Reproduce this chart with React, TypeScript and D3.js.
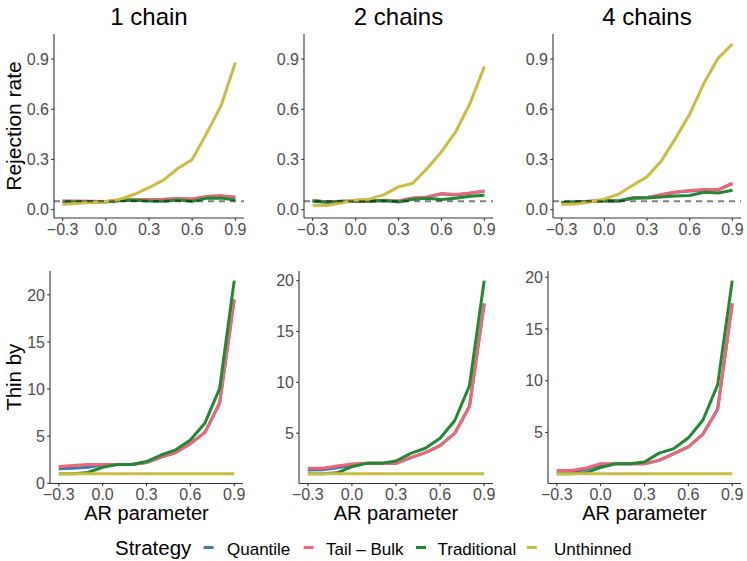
import React from 'react';
import * as d3 from 'd3';

// AR parameter values on the x axis
const arParam = [-0.3, -0.2, -0.1, 0.0, 0.1, 0.2, 0.3, 0.4, 0.5, 0.6, 0.7, 0.8, 0.9];
const xTicks = [-0.3, 0.0, 0.3, 0.6, 0.9];
const rejTicks = [0, 0.3, 0.6, 0.9];
const thinTicks = [0, 5, 10, 15, 20];
const nominalRate = 0.05;

const strategies = ['Quantile', 'Tail \u2013 Bulk', 'Traditional', 'Unthinned'];
const strategyColors = ['#4477AA', '#EE6677', '#228833', '#CCBB44'];
const chainTitles = ['1 chain', '2 chains', '4 chains'];

// rejection rate, one row per strategy (Quantile, Tail-Bulk, Traditional, Unthinned)
const rejection1 = [
  [0.05, 0.05, 0.049, 0.048, 0.055, 0.06, 0.06, 0.06, 0.065, 0.062, 0.075, 0.08, 0.075],
  [0.052, 0.05, 0.05, 0.048, 0.055, 0.06, 0.06, 0.062, 0.066, 0.064, 0.078, 0.085, 0.07],
  [0.045, 0.046, 0.047, 0.046, 0.055, 0.056, 0.052, 0.05, 0.058, 0.05, 0.068, 0.07, 0.058],
  [0.03, 0.038, 0.042, 0.048, 0.062, 0.092, 0.132, 0.176, 0.246, 0.3, 0.456, 0.62, 0.88],
];
const rejection2 = [
  [0.054, 0.046, 0.05, 0.05, 0.05, 0.055, 0.05, 0.068, 0.074, 0.094, 0.088, 0.098, 0.11],
  [0.056, 0.046, 0.05, 0.05, 0.052, 0.056, 0.052, 0.07, 0.076, 0.096, 0.09, 0.1, 0.112],
  [0.05, 0.044, 0.048, 0.05, 0.052, 0.054, 0.046, 0.062, 0.068, 0.06, 0.068, 0.08, 0.086],
  [0.026, 0.024, 0.04, 0.058, 0.064, 0.09, 0.136, 0.158, 0.246, 0.346, 0.466, 0.636, 0.856],
];
const rejection4 = [
  [0.042, 0.046, 0.05, 0.052, 0.052, 0.07, 0.072, 0.088, 0.104, 0.112, 0.118, 0.118, 0.155],
  [0.042, 0.046, 0.05, 0.052, 0.052, 0.07, 0.072, 0.09, 0.106, 0.114, 0.12, 0.12, 0.158],
  [0.042, 0.046, 0.048, 0.054, 0.052, 0.07, 0.07, 0.076, 0.082, 0.084, 0.104, 0.1, 0.116],
  [0.03, 0.034, 0.046, 0.064, 0.092, 0.146, 0.196, 0.29, 0.426, 0.572, 0.756, 0.906, 0.99],
];

// thinning interval, same strategy order
const thin1 = [
  [1.53, 1.6, 1.7, 1.95, 2.0, 2.0, 2.2, 2.77, 3.27, 4.2, 5.4, 8.5, 19.5],
  [1.78, 1.88, 2.0, 2.0, 2.0, 2.0, 2.2, 2.77, 3.27, 4.2, 5.4, 8.5, 19.5],
  [1.0, 1.0, 1.15, 1.7, 2.0, 2.0, 2.3, 3.0, 3.55, 4.6, 6.4, 10.05, 21.5],
  [1, 1, 1, 1, 1, 1, 1, 1, 1, 1, 1, 1, 1],
];
const thin2 = [
  [1.38, 1.4, 1.6, 1.87, 2.03, 2.03, 2.03, 2.6, 3.09, 3.78, 5.0, 7.64, 17.76],
  [1.54, 1.54, 1.77, 1.97, 2.03, 2.03, 2.03, 2.6, 3.09, 3.78, 5.0, 7.64, 17.76],
  [1.0, 1.0, 1.1, 1.7, 2.03, 2.03, 2.26, 3.02, 3.52, 4.5, 6.25, 9.68, 20.0],
  [1, 1, 1, 1, 1, 1, 1, 1, 1, 1, 1, 1, 1],
];
const thin4 = [
  [1.23, 1.23, 1.43, 1.82, 1.98, 1.98, 1.98, 2.3, 2.95, 3.6, 4.84, 7.24, 17.47],
  [1.33, 1.33, 1.56, 1.98, 1.98, 1.98, 1.98, 2.3, 2.95, 3.6, 4.84, 7.24, 17.47],
  [1.0, 1.0, 1.1, 1.62, 1.98, 1.98, 2.14, 3.0, 3.44, 4.48, 6.2, 9.6, 19.67],
  [1, 1, 1, 1, 1, 1, 1, 1, 1, 1, 1, 1, 1],
];

const rejectionData = [rejection1, rejection2, rejection4];
const thinData = [thin1, thin2, thin4];

const FONT = '"Liberation Sans", Arial, Helvetica, sans-serif';
const AXIS_COL = '#333333';
const TICK_COL = '#4D4D4D';

const topCols = [[54, 244], [304, 493], [553, 741]];
const bottomCols = [[50, 243], [299, 493], [548, 741]];

const expand = (vals: number[]) => {
  const [lo, hi] = d3.extent(vals) as [number, number];
  const pad = (hi - lo) * 0.05;
  return [lo - pad, hi + pad];
};

const Panel = ({ x0, x1, yB, yT, series, yDomain, yTicks, yFmt, hline }: any) => {
  const x = d3.scaleLinear().domain([-0.36, 0.96]).range([x0, x1]);
  const y = d3.scaleLinear().domain(yDomain).range([yB, yT]);
  const line = d3.line<number>().x((_, i) => x(arParam[i])).y(d => y(d));
  const ticks = yTicks.filter((t: number) => t >= yDomain[0] && t <= yDomain[1]);
  return (
    <g>
      {series.map((s: number[], i: number) => (
        <path key={i} d={line(s) || ''} fill="none" stroke={strategyColors[i]}
          strokeWidth={3} strokeLinejoin="round" />
      ))}
      {hline != null && (
        <line x1={x0} x2={x1} y1={y(hline)} y2={y(hline)} stroke="#000" strokeOpacity={0.5}
          strokeWidth={2} strokeDasharray="6,5" />
      )}
      <line x1={x0} x2={x0} y1={yT} y2={yB} stroke={AXIS_COL} strokeWidth={1.1} />
      <line x1={x0} x2={x1} y1={yB} y2={yB} stroke={AXIS_COL} strokeWidth={1.1} />
      {ticks.map((t: number) => (
        <g key={'y' + t}>
          <line x1={x0 - 2.75} x2={x0} y1={y(t)} y2={y(t)} stroke={AXIS_COL} strokeWidth={1.1} />
          <text x={x0 - 5} y={y(t)} dy="0.36em" textAnchor="end" fontSize={16} fill={TICK_COL}>
            {yFmt(t)}
          </text>
        </g>
      ))}
      {xTicks.map(t => (
        <g key={'x' + t}>
          <line x1={x(t)} x2={x(t)} y1={yB} y2={yB + 2.75} stroke={AXIS_COL} strokeWidth={1.1} />
          <text x={x(t)} y={yB + 16.5} textAnchor="middle" fontSize={16} fill={TICK_COL}>
            {d3.format('.1f')(t)}
          </text>
        </g>
      ))}
    </g>
  );
};

const legendKeys = [203.6, 303.6, 416, 526.8];
const legendTextX = [227, 326, 437.5, 554];

export default function App() {
  const topY: [number, number] = [218, 34];
  const botY: [number, number] = [483.5, 271];
  return (
    <svg width={747} height={561} style={{ position: 'absolute', left: 0, top: 0 }} fontFamily={FONT}>
      <rect width={747} height={561} fill="#fff" />
      {chainTitles.map((title, c) => {
        const [tx0, tx1] = topCols[c];
        const [bx0, bx1] = bottomCols[c];
        const rej = rejectionData[c];
        const thin = thinData[c];
        return (
          <g key={title}>
            <text x={(tx0 + tx1) / 2} y={25} textAnchor="middle" fontSize={24} fill="#000">{title}</text>
            <Panel x0={tx0} x1={tx1} yB={topY[0]} yT={topY[1]} series={rej}
              yDomain={[-0.05, 1.05]} yTicks={rejTicks} yFmt={d3.format('.1f')} hline={nominalRate} />
            <Panel x0={bx0} x1={bx1} yB={botY[0]} yT={botY[1]} series={thin}
              yDomain={expand(thin.flat())} yTicks={thinTicks} yFmt={d3.format('d')} />
            <text x={(bx0 + bx1) / 2} y={520} textAnchor="middle" fontSize={20} fill="#000">AR parameter</text>
          </g>
        );
      })}
      <text transform={`translate(21,${(topY[0] + topY[1]) / 2}) rotate(-90)`} textAnchor="middle"
        fontSize={21} fill="#000">Rejection rate</text>
      <text transform={`translate(21,${(botY[0] + botY[1]) / 2}) rotate(-90)`} textAnchor="middle"
        fontSize={20.5} fill="#000">Thin by</text>
      <text x={115} y={555} fontSize={20.5} fill="#000">Strategy</text>
      {strategies.map((s, i) => (
        <g key={s}>
          <line x1={legendKeys[i]} x2={legendKeys[i] + 10} y1={547.5} y2={547.5}
            stroke={strategyColors[i]} strokeWidth={3} />
          <text x={legendTextX[i]} y={554.5} fontSize={17} fill="#000">{s}</text>
        </g>
      ))}
    </svg>
  );
}
